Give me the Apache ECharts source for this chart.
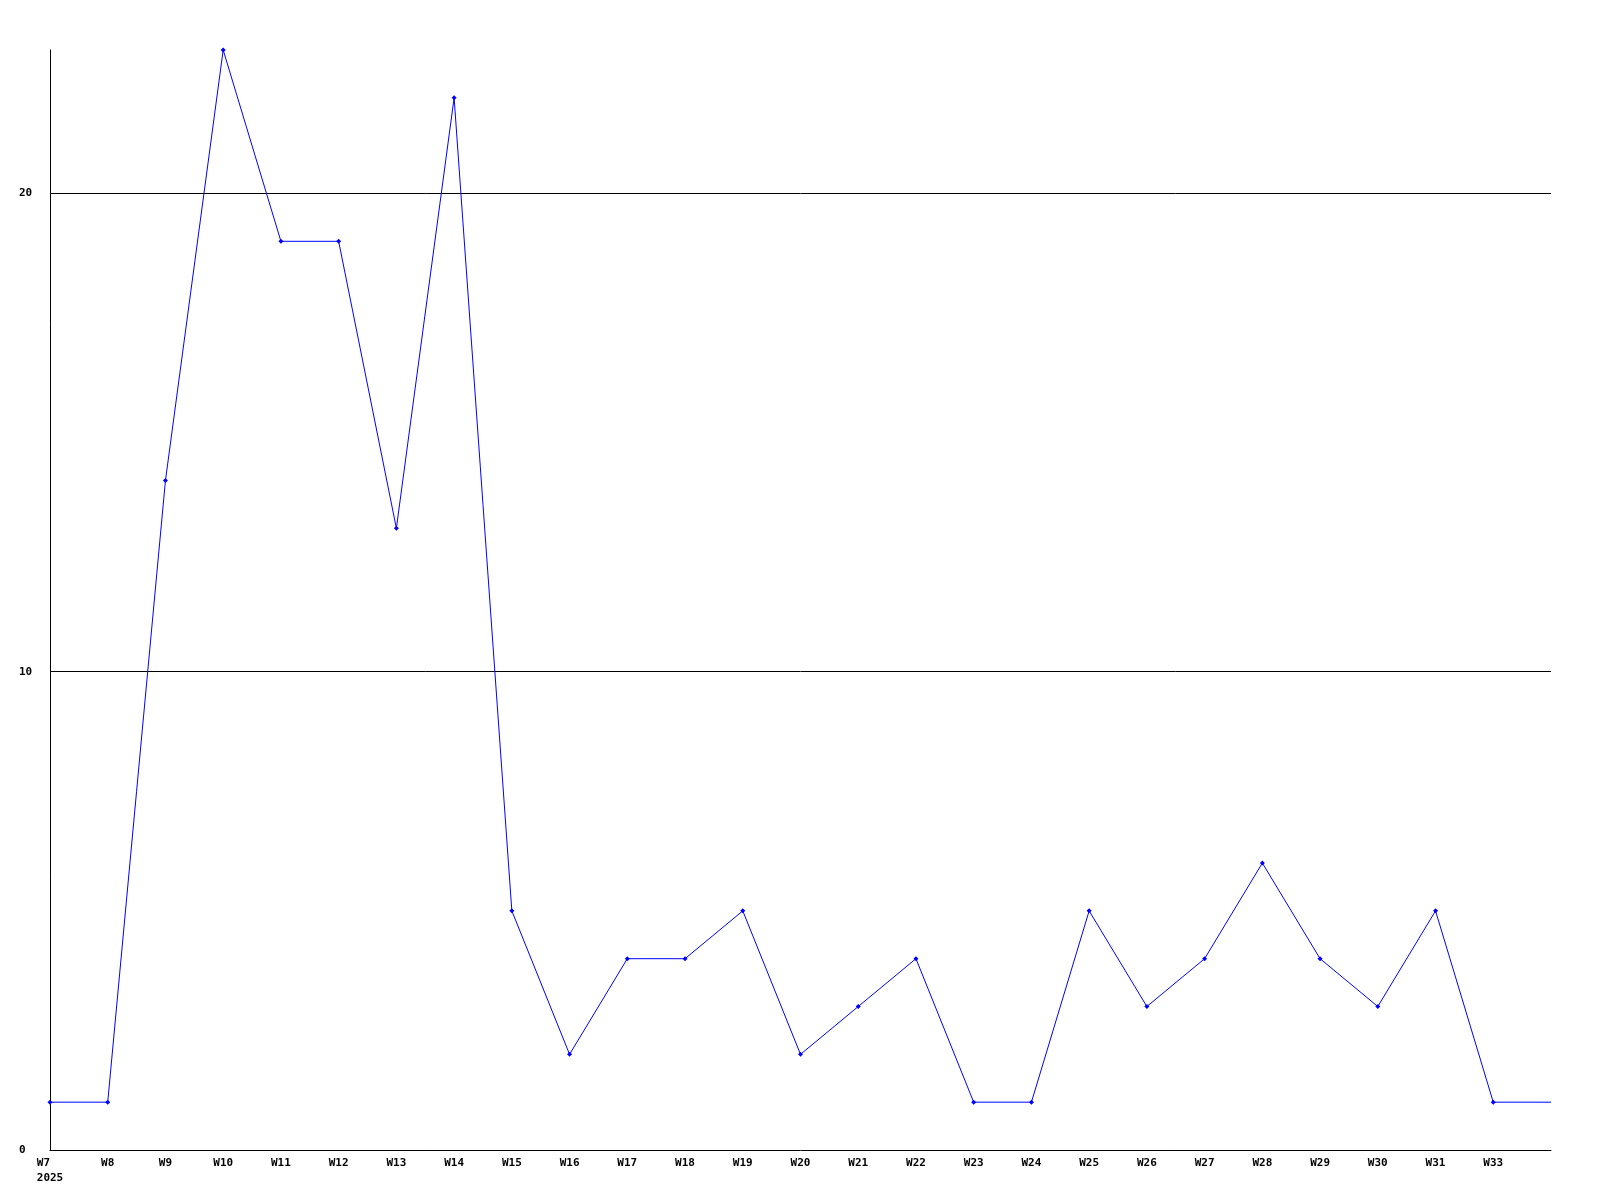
<!DOCTYPE html>
<html>
<head>
<meta charset="utf-8">
<script src="https://cdn.jsdelivr.net/npm/echarts@6/dist/echarts.min.js"></script>
<style>html,body{margin:0;padding:0;background:#fff}#c{width:1600px;height:1200px}</style>
</head>
<body>
<div id="c"></div>
<script>
const categories = ['W7','W8','W9','W10','W11','W12','W13','W14','W15','W16','W17','W18','W19','W20','W21','W22','W23','W24','W25','W26','W27','W28','W29','W30','W31','W33',''];
const values = [1,1,14,23,19,19,13,22,5,2,4,4,5,2,3,4,1,1,5,3,4,6,4,3,5,1,1];
const yearLabel = '2025';
const yTicks = [0,10,20];
const gridLines = [10,20];

const chart = echarts.init(document.getElementById('c'), null, {renderer:'canvas'});
const font = {fontFamily:'DejaVu Sans Mono', fontWeight:'bold', fontSize:11, color:'#000'};
const seriesData = values.map(function(v, i){
  return i === values.length - 1 ? {value:v, symbol:'none'} : v;
});
chart.setOption({
  animation:false,
  backgroundColor:'#fff',
  grid:{left:50, right:49, top:50, bottom:50, containLabel:false},
  xAxis:{
    type:'category', data:categories, boundaryGap:false,
    axisLine:{lineStyle:{color:'#000', width:1}},
    axisTick:{show:false},
    splitLine:{show:false},
    axisLabel:Object.assign({}, font, {interval:0, margin:6, lineHeight:15,
      formatter:function(v, i){ return i===0 ? v + '\u00a0\u00a0\n' + yearLabel : v; }})
  },
  yAxis:{
    type:'value', min:0, max:23, interval:10,
    axisLine:{show:true, lineStyle:{color:'#000', width:1}},
    axisTick:{show:false},
    splitLine:{show:false},
    axisLabel:Object.assign({}, font, {align:'left', margin:31,
      formatter:function(v){ return yTicks.indexOf(v) >= 0 ? String(v) : ''; }})
  },
  series:[{
    type:'line', data:seriesData,
    lineStyle:{color:'#0000ff', width:1},
    itemStyle:{color:'#0000ff'},
    symbol:'diamond', symbolSize:5, showAllSymbol:true,
    z:3,
    markLine:{
      silent:true, symbol:'none', animation:false, z:1,
      label:{show:false},
      lineStyle:{color:'#000', width:1, type:'solid'},
      emphasis:{disabled:true},
      data:gridLines.map(function(g){ return {yAxis:g}; })
    }
  }]
});
</script>
</body>
</html>
